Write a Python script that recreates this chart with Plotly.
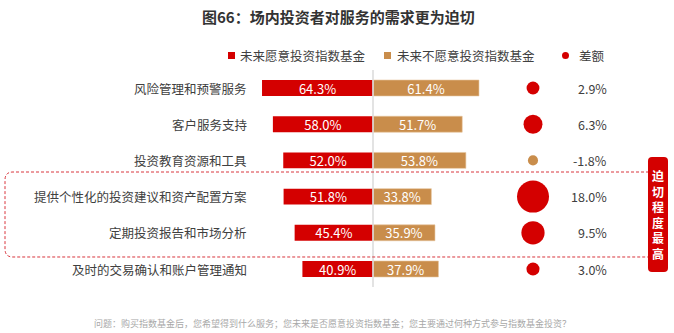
import plotly.graph_objects as go

# ---- data ----
categories = [
    "风险管理和预警服务",
    "客户服务支持",
    "投资教育资源和工具",
    "提供个性化的投资建议和资产配置方案",
    "定期投资报告和市场分析",
    "及时的交易确认和账户管理通知",
]
willing = [64.3, 58.0, 52.0, 51.8, 45.4, 40.9]       # 未来愿意投资指数基金
unwilling = [61.4, 51.7, 53.8, 33.8, 35.9, 37.9]     # 未来不愿意投资指数基金
gap = [2.9, 6.3, -1.8, 18.0, 9.5, 3.0]               # 差额

# ---- style ----
W, H = 674, 333
RED = "#d40000"
TAN = "#c98d4b"
TXT = "#404040"
FONT = "Noto Sans CJK SC"

PX_PER_UNIT = 1.726          # horizontal pixels per percentage point
CENTER_PX = 373              # pixel column of the zero line
ROW0_PX, ROW_STEP = 88, 36.2 # first row centre and row pitch (pixels)


def px2x(px):
    return (px - CENTER_PX) / PX_PER_UNIT


def px2py(px):
    return 1 - px / H


def pxx(px):
    return px / W


# y axis such that row i sits at ROW0_PX + i*ROW_STEP
units_span = H / ROW_STEP
y_top = -ROW0_PX / ROW_STEP
y_bot = y_top + units_span

rows = list(range(len(categories)))

fig = go.Figure()

fig.add_trace(go.Bar(
    y=rows, x=[-v for v in willing], base=0, orientation="h",
    marker=dict(color=RED, line=dict(width=0)), width=0.44,
    text=[f"{v:.1f}%" for v in willing], textposition="inside",
    insidetextanchor="middle", textangle=0,
    textfont=dict(color="white", size=13, family=FONT),
    hoverinfo="skip", showlegend=False,
))
fig.add_trace(go.Bar(
    y=rows, x=unwilling, base=0, orientation="h",
    marker=dict(color=TAN, line=dict(width=0.6, color="#e6c49c")), width=0.44,
    text=[f"{v:.1f}%" for v in unwilling], textposition="inside",
    insidetextanchor="middle", textangle=0,
    textfont=dict(color="white", size=13, family=FONT),
    hoverinfo="skip", showlegend=False,
))

# bubble diameter (px) = sqrt(2*v/sizeref); 18.0 -> 32 px
DOT_X = px2x(533)
fig.add_trace(go.Scatter(
    x=[DOT_X] * len(gap), y=rows, mode="markers",
    marker=dict(
        size=[abs(d) for d in gap], sizemode="area", sizeref=2 * 18.0 / 32 ** 2,
        color=[RED if d > 0 else TAN for d in gap], line=dict(width=0),
        opacity=1,
    ),
    hoverinfo="skip", showlegend=False,
))

annotations = []
# category labels
for i, c in enumerate(categories):
    annotations.append(dict(
        x=px2x(249), y=i, xref="x", yref="y", text=c, showarrow=False,
        xanchor="right", yanchor="middle",
        font=dict(size=12.5, color=TXT, family=FONT),
    ))
# gap labels
for i, d in enumerate(gap):
    annotations.append(dict(
        x=px2x(609), y=i, xref="x", yref="y", text=f"{d:.1f}%", showarrow=False,
        xanchor="right", yanchor="middle",
        font=dict(size=12.5, color=TXT, family=FONT),
    ))

# title
annotations.append(dict(
    x=pxx(338), y=px2py(17), xref="paper", yref="paper",
    text="<b>图66：场内投资者对服务的需求更为迫切</b>", showarrow=False,
    xanchor="center", yanchor="middle",
    font=dict(size=15, color="#333333", family=FONT),
))

# legend texts
LEG_Y = 55.5
for x_px, label in [(238, "未来愿意投资指数基金"), (395, "未来不愿意投资指数基金"), (577, "差额")]:
    annotations.append(dict(
        x=pxx(x_px), y=px2py(LEG_Y), xref="paper", yref="paper", text=label,
        showarrow=False, xanchor="left", yanchor="middle",
        font=dict(size=12.5, color=TXT, family=FONT),
    ))

# side tag text
annotations.append(dict(
    x=pxx(658), y=px2py(214.5), xref="paper", yref="paper",
    text="<b>迫<br>切<br>程<br>度<br>最<br>高</b>", showarrow=False,
    xanchor="center", yanchor="middle",
    font=dict(size=12, color="white", family=FONT),
))

# footnote
annotations.append(dict(
    x=pxx(332), y=px2py(323), xref="paper", yref="paper",
    text="问题：购买指数基金后，您希望得到什么服务；您未来是否愿意投资指数基金；您主要通过何种方式参与指数基金投资？",
    showarrow=False, xanchor="center", yanchor="middle",
    font=dict(size=9, color="#a8a8a8", family=FONT),
))


def rounded_path(x0, y0, x1, y1, r, open_right=False):
    """Rounded rectangle path in paper units from pixel corners."""
    P = lambda x, y: f"{pxx(x):.5f},{px2py(y):.5f}"
    if open_right:
        return (f"M{P(x1, y0)} L{P(x0 + r, y0)} Q{P(x0, y0)} {P(x0, y0 + r)} "
                f"L{P(x0, y1 - r)} Q{P(x0, y1)} {P(x0 + r, y1)} L{P(x1, y1)}")
    return (f"M{P(x0 + r, y0)} L{P(x1 - r, y0)} Q{P(x1, y0)} {P(x1, y0 + r)} "
            f"L{P(x1, y1 - r)} Q{P(x1, y1)} {P(x1 - r, y1)} L{P(x0 + r, y1)} "
            f"Q{P(x0, y1)} {P(x0, y1 - r)} L{P(x0, y0 + r)} Q{P(x0, y0)} {P(x0 + r, y0)} Z")


shapes = [
    # zero line
    dict(type="line", xref="x", yref="paper", x0=0, x1=0,
         y0=px2py(70), y1=px2py(287), line=dict(color="#dcdcdc", width=1.6), layer="above"),
    # highlight box
    dict(type="path", xref="paper", yref="paper",
         path=rounded_path(5, 172, 649, 257, 8, open_right=True),
         line=dict(color="#d9363e", width=1, dash="3px,2px")),
    # side tag
    dict(type="path", xref="paper", yref="paper",
         path=rounded_path(648, 157, 668, 272, 4),
         fillcolor=RED, line=dict(width=0)),
    # legend markers
    dict(type="rect", xref="paper", yref="paper",
         x0=pxx(228), x1=pxx(235), y0=px2py(59), y1=px2py(52),
         fillcolor=RED, line=dict(width=0)),
    dict(type="rect", xref="paper", yref="paper",
         x0=pxx(384), x1=pxx(391), y0=px2py(59), y1=px2py(52),
         fillcolor=TAN, line=dict(width=0)),
    dict(type="circle", xref="paper", yref="paper",
         x0=pxx(562), x1=pxx(569), y0=px2py(59), y1=px2py(52),
         fillcolor=RED, line=dict(width=0)),
]

fig.update_layout(
    width=W, height=H,
    margin=dict(l=0, r=0, t=0, b=0),
    paper_bgcolor="white", plot_bgcolor="white",
    barmode="overlay",
    uniformtext=dict(minsize=13, mode="show"),
    xaxis=dict(range=[px2x(0), px2x(W)], visible=False, domain=[0, 1], fixedrange=True),
    yaxis=dict(range=[y_bot, y_top], visible=False, domain=[0, 1], fixedrange=True),
    annotations=annotations,
    shapes=shapes,
    font=dict(family=FONT),
)

fig.write_html("out.html", config={"displayModeBar": False})
